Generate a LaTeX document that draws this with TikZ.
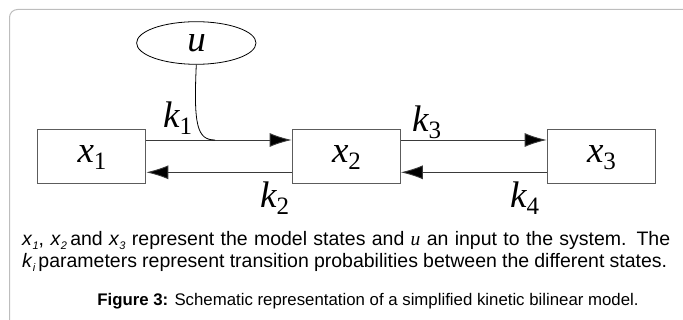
\documentclass[tikz,border=0pt]{standalone}
\usepackage{fontspec}
\setmainfont{Liberation Sans}
\newfontfamily\dserif{Liberation Serif}
\usetikzlibrary{arrows.meta,shapes.geometric}
\definecolor{framegray}{HTML}{BDBDBD}
\definecolor{boxgray}{HTML}{5C5C5C}
\definecolor{linegray}{HTML}{3A3A3A}
\newcommand{\dvar}[2]{{\dserif\itshape #1}\raisebox{-7pt}{\fontsize{25}{25}\selectfont\dserif #2}}
\newcommand{\cvar}[2]{\textit{#1}\raisebox{-4pt}{\fontsize{11}{11}\selectfont\itshape #2}}
\tikzset{
  statebox/.style={draw=boxgray, line width=1.2pt, minimum width=108pt, minimum height=54pt, inner sep=0pt},
  flow/.style={draw=linegray, line width=0.9pt, -{Latex[length=22pt,width=14pt,fill=black]}},
  biglabel/.style={inner sep=0pt, font=\fontsize{37}{40}\selectfont},
  captext/.style={inner sep=0pt, font=\fontsize{19.5}{22}\selectfont},
  figtext/.style={inner sep=0pt, font=\fontsize{16.8}{19}\selectfont}
}
\begin{document}
\begin{tikzpicture}[x=1pt,y=-1pt]
\useasboundingbox (0,0) rectangle (683,320);
\clip (0,0) rectangle (683,320);
\draw[framegray, line width=1pt, rounded corners=8pt] (9.5,9.5) rectangle (691,345);
\node[statebox] (x1) at (91.7,156.3) {};
\node[statebox] (x2) at (346.2,156.3) {};
\node[statebox] (x3) at (601.2,156.3) {};
\node[biglabel, anchor=base] (lx1) at (92,162.7) {\dvar{x}{1}};
\node[biglabel, anchor=base] (lx2) at (346.5,162.7) {\dvar{x}{2}};
\node[biglabel, anchor=base] (lx3) at (601.5,162.7) {\dvar{x}{3}};
\node[draw=black, line width=0.8pt, ellipse, minimum width=119.4pt, minimum height=42.6pt, inner sep=0pt] (u) at (196.3,43) {};
\node[biglabel, anchor=base] (lu) at (196.5,52) {\dserif\itshape u};
\draw[flow] ([yshift=16.3pt]x1.east) -- ([yshift=16.3pt]x2.west);
\draw[flow] ([yshift=-16pt]x2.west) -- ([yshift=-16pt]x1.east);
\draw[flow] ([yshift=16.3pt]x2.east) -- ([yshift=16.3pt]x3.west);
\draw[flow] ([yshift=-16pt]x3.west) -- ([yshift=-16pt]x2.east);
\coordinate (join) at (215,140);
\draw[black, line width=0.8pt] (u.south) .. controls (193.5,125) and (197,140) .. (join);
\node[biglabel, anchor=base west] (k1) at (163,128) {\dvar{k}{1}};
\node[biglabel, anchor=base west] (k3) at (412,132) {\dvar{k}{3}};
\node[biglabel, anchor=base west] (k2) at (260,208) {\dvar{k}{2}};
\node[biglabel, anchor=base west] (k4) at (510,208) {\dvar{k}{4}};
\node[captext, anchor=base west] (c1) at (22,246) {\makebox[648pt][s]{\cvar{x}{1}, \cvar{x}{2}\,and \cvar{x}{3} represent the model states and {\dserif\itshape u} an input to the system. The}};
\node[captext, anchor=base west] (c2) at (22,268) {\makebox[645pt][s]{\cvar{k}{i}\,parameters represent transition probabilities between the different states.}};
\node[figtext, anchor=base] (c3) at (368,306) {\textbf{Figure 3:} Schematic representation of a simplified kinetic bilinear model.};
\end{tikzpicture}
\end{document}
